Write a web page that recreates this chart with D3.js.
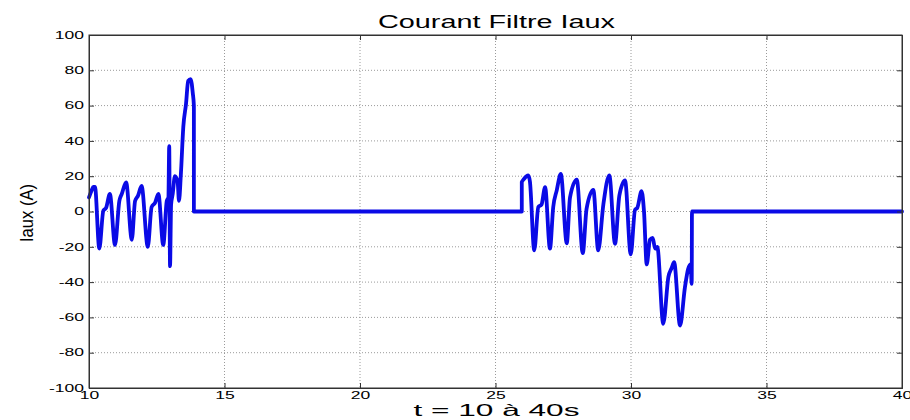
<!DOCTYPE html>
<html>
<head>
<meta charset="utf-8">
<script src="https://cdn.jsdelivr.net/npm/d3@7"></script>
<style>
  html, body { margin: 0; padding: 0; background: #fff; }
  text { font-family: "Liberation Sans", Arial, sans-serif; fill: #000; }
</style>
</head>
<body>
<svg id="chart" width="910" height="420"></svg>
<script>
// ---- data ----
const chartTitle = "Courant Filtre Iaux";
const xLabel = "t = 10 à 40s";
const yLabel = "Iaux (A)";
const xTicks = [10, 15, 20, 25, 30, 35, 40];
const yTicks = [-100, -80, -60, -40, -20, 0, 20, 40, 60, 80, 100];

const timeValues = [
  10.00, 10.10, 10.16, 10.22, 10.38, 10.53, 10.63, 10.77, 10.96, 11.12, 11.21, 11.37,
  11.58, 11.70, 11.81, 11.94, 12.17, 12.31, 12.44, 12.56, 12.74, 12.87, 12.93, 12.96,
  12.99, 13.03, 13.09, 13.17, 13.27, 13.32, 13.39, 13.48, 13.58, 13.66, 13.75, 13.83,
  13.87, 13.87,
  25.97, 25.97, 26.03, 26.21, 26.27, 26.43, 26.58, 26.70, 26.83, 27.01, 27.13, 27.26,
  27.41, 27.63, 27.75, 28.00, 28.22, 28.36, 28.61, 28.79, 28.98, 29.20, 29.41, 29.57,
  29.78, 29.99, 30.15, 30.23, 30.39, 30.48, 30.58, 30.70, 30.80, 30.89, 30.97, 31.19,
  31.38, 31.50, 31.59, 31.81, 31.99, 32.11, 32.20, 32.24, 32.25,
  40.00
];
const currentValues = [
  8, 12, 14, 14, -21, 0.5, 2, 10, -19, 6, 10, 16.5,
  -16, 6, 9, 14.5, -20, 2.5, 5, 10, -19, 6, 8, 37,
  -31, 4, 10, 20, 17, 6, 21, 48, 61, 74, 75, 67,
  60, 0,
  0, 16.6, 18, 20.4, 17, -22, 2.5, 4, 13.8, -21, 2.5, 12,
  21.3, -18, 8, 18, -23.6, 1.5, 12.3, -22, 4, 20.4, -18.3, 9,
  17.6, -24.3, 1, 2, 11.5, 0, -30, -16, -15, -21, -20, -63.6,
  -37, -32, -28.7, -64.6, -43, -32.5, -30, -41, 0,
  0
];

// ---- layout ----
const svg = d3.select("#chart");
const mLeft = 89, mRight = 902, mTop = 35, mBottom = 388;

const x = d3.scaleLinear().domain([10, 40]).range([mLeft, mRight]);
const y = d3.scaleLinear().domain([-100, 100]).range([mBottom, mTop]);

function stretch(sel, factor) {
  sel.each(function () {
    const w = this.getComputedTextLength();
    d3.select(this).attr("textLength", w * factor).attr("lengthAdjust", "spacingAndGlyphs");
  });
}

// grid
const grid = svg.append("g");
grid.selectAll("line.gx").data(xTicks.slice(1, -1)).join("line")
  .attr("x1", d => x(d)).attr("x2", d => x(d)).attr("y1", mTop).attr("y2", mBottom)
  .attr("stroke", "#9a9a9a").attr("stroke-width", 1).attr("stroke-dasharray", "1,2");
grid.selectAll("line.gy").data(yTicks.slice(1, -1)).join("line")
  .attr("x1", mLeft).attr("x2", mRight).attr("y1", d => y(d)).attr("y2", d => y(d))
  .attr("stroke", "#9a9a9a").attr("stroke-width", 1).attr("stroke-dasharray", "1,2");

// data line
const line = d3.line().x((d, i) => x(timeValues[i])).y(d => y(d)).curve(d3.curveMonotoneX);
svg.append("path")
  .datum(currentValues)
  .attr("d", line)
  .attr("fill", "none")
  .attr("stroke", "#0a0ae6")
  .attr("stroke-width", 3.8)
  .attr("stroke-linejoin", "round")
  .attr("stroke-linecap", "round");

// axes (ticks inward)
const axisColor = "#333";
const fmt = d => String(d);
const gx = svg.append("g").attr("transform", `translate(0,${mBottom})`)
  .call(d3.axisBottom(x).tickValues(xTicks).tickSize(-5).tickPadding(7).tickFormat(fmt));
const gxTop = svg.append("g").attr("transform", `translate(0,${mTop})`)
  .call(d3.axisTop(x).tickValues(xTicks).tickSize(-5).tickFormat(""));
const gy = svg.append("g").attr("transform", `translate(${mLeft},0)`)
  .call(d3.axisLeft(y).tickValues(yTicks).tickSize(-5).tickPadding(5).tickFormat(fmt));
const gyRight = svg.append("g").attr("transform", `translate(${mRight},0)`)
  .call(d3.axisRight(y).tickValues(yTicks).tickSize(-5).tickFormat(""));

[gx, gxTop, gy, gyRight].forEach(g => {
  g.select(".domain").attr("stroke", axisColor).attr("stroke-width", 1);
  g.selectAll(".tick line").attr("stroke", axisColor);
  g.selectAll("text").attr("font-family", "Liberation Sans, Arial, sans-serif")
    .attr("font-size", 10).attr("fill", "#000");
});
gx.selectAll(".tick text").attr("y", 3.5);
stretch(gx.selectAll(".tick text"), 1.75);
stretch(gy.selectAll(".tick text"), 1.75);

// box border
svg.append("rect").attr("x", mLeft).attr("y", mTop)
  .attr("width", mRight - mLeft).attr("height", mBottom - mTop)
  .attr("fill", "none").attr("stroke", axisColor).attr("stroke-width", 1);

// title
svg.append("text").attr("x", 496.5).attr("y", 28)
  .attr("text-anchor", "middle").attr("font-size", 17.5)
  .attr("textLength", 237).attr("lengthAdjust", "spacingAndGlyphs")
  .text(chartTitle);

// x label
svg.append("text").attr("x", 496.5).attr("y", 416)
  .attr("text-anchor", "middle").attr("font-size", 16.5)
  .attr("textLength", 166).attr("lengthAdjust", "spacingAndGlyphs")
  .text(xLabel);

// y label
svg.append("text").attr("transform", "translate(33,213) rotate(-90)")
  .attr("text-anchor", "middle").attr("font-size", 18)
  .attr("textLength", 58).attr("lengthAdjust", "spacingAndGlyphs")
  .text(yLabel);
</script>
</body>
</html>
